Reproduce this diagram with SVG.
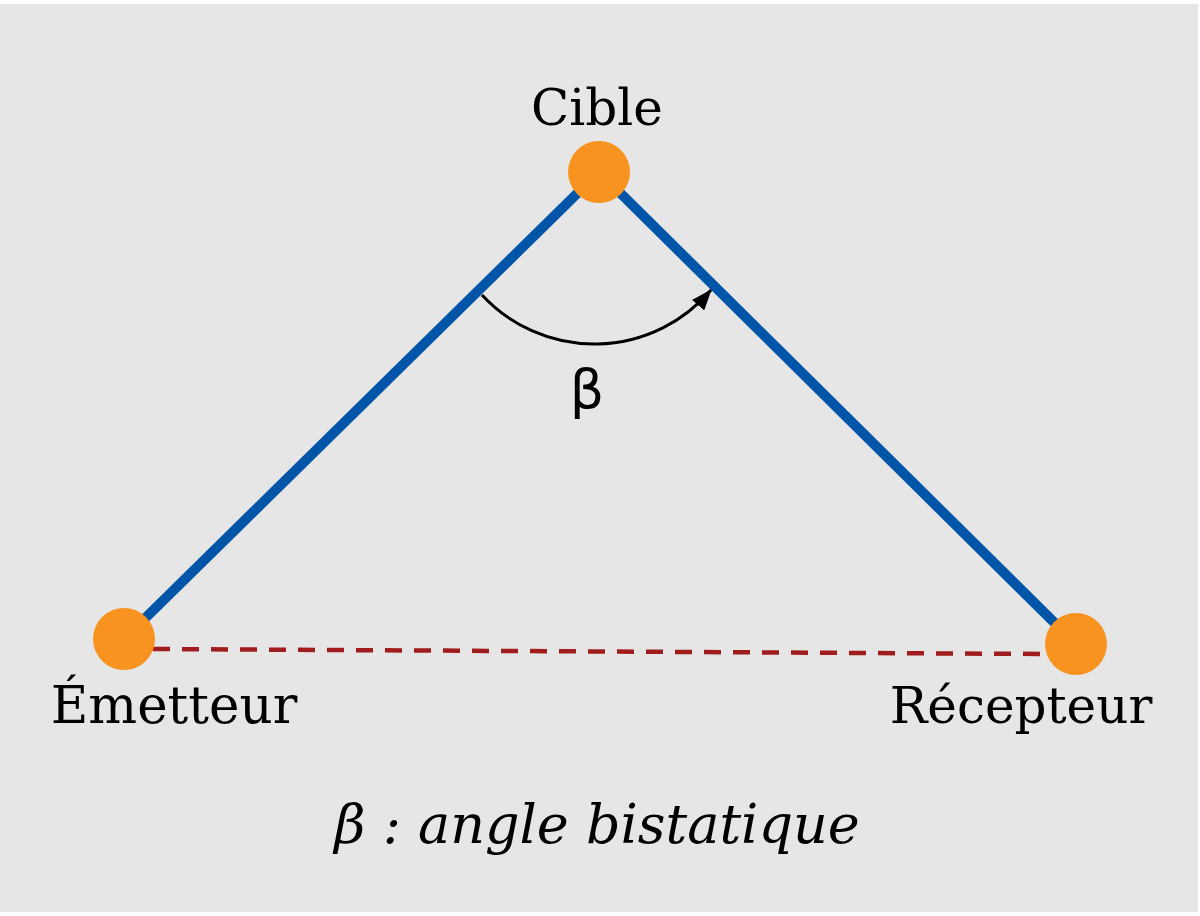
<svg xmlns="http://www.w3.org/2000/svg" width="1200" height="916" viewBox="0 0 1200 916">
<style>
.lbl{font-family:"DejaVu Serif","Liberation Serif",serif;font-size:50px;fill:#000;text-anchor:middle}
.it{font-style:italic;font-size:54px}
.node{fill:#f7931e}
.ray{stroke:#0055a8;stroke-width:10;fill:none}
.base{stroke:#a11c1c;stroke-width:4.5;stroke-dasharray:17 12;fill:none}
.arc{stroke:#000;stroke-width:3;fill:none}
</style>
<defs>
<marker id="ah" markerWidth="22" markerHeight="16" refX="20" refY="8" orient="auto" markerUnits="userSpaceOnUse">
<path d="M0,0 L21,8 L0,16 z" fill="#000"/>
</marker>
</defs>
<rect x="0" y="0" width="1200" height="916" fill="#ffffff"/>
<rect x="0" y="4" width="1198" height="908" fill="#e6e6e6"/>
<g id="connectors">
<line class="ray" x1="124" y1="639" x2="599" y2="172"/>
<line class="ray" x1="599" y1="172" x2="1076" y2="644"/>
<line class="base" x1="153" y1="649" x2="1047" y2="654"/>
<path class="arc" d="M482,295 A153,153 0 0 0 711,290" marker-end="url(#ah)"/>
<text class="lbl" x="587" y="408" style="font-family:'DejaVu Sans',sans-serif;font-size:54px">β</text>
</g>
<g id="cible">
<circle class="node" cx="599" cy="172" r="31"/>
<text class="lbl" x="597" y="125">Cible</text>
</g>
<g id="emetteur">
<circle class="node" cx="124" cy="639" r="31"/>
<text class="lbl" x="174" y="723" style="font-size:51.5px">Émetteur</text>
</g>
<g id="recepteur">
<circle class="node" cx="1076" cy="644" r="31"/>
<text class="lbl" x="1021" y="723">Récepteur</text>
</g>
<g id="legend">
<text class="lbl it" x="597" y="843">β : angle bistatique</text>
</g>
</svg>
